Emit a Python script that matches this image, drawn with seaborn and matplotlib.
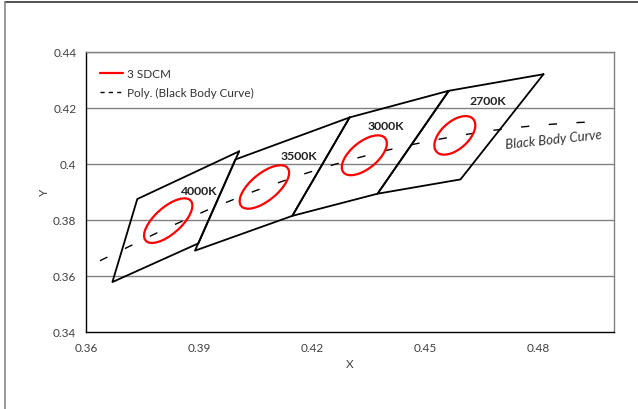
import seaborn as sns
import matplotlib.pyplot as plt
from matplotlib.patches import Ellipse
from matplotlib.lines import Line2D

# ANSI quadrangles (x, y corners)
cct_names = ['2700K', '3000K', '3500K', '4000K']
quad_x = {
    '2700K': [0.4813, 0.4562, 0.4373, 0.4593],
    '3000K': [0.4562, 0.4299, 0.4147, 0.4373],
    '3500K': [0.4299, 0.3996, 0.3889, 0.4147],
    '4000K': [0.4006, 0.3736, 0.3670, 0.3898],
}
quad_y = {
    '2700K': [0.4319, 0.4260, 0.3893, 0.3944],
    '3000K': [0.4260, 0.4165, 0.3814, 0.3893],
    '3500K': [0.4165, 0.4015, 0.3690, 0.3814],
    '4000K': [0.4044, 0.3874, 0.3578, 0.3716],
}

# 3 SDCM ellipses: centre, semi axes, tilt (deg)
ell_cx = [0.4578, 0.4338, 0.4073, 0.3818]
ell_cy = [0.4101, 0.4030, 0.3917, 0.3797]
ell_a = [0.00774, 0.00834, 0.00927, 0.00939]
ell_b = [0.00411, 0.00408, 0.00414, 0.00402]
ell_theta = [57.26, 53.13, 52.17, 54.00]

# label positions for each quadrangle
label_x = [0.4666, 0.4396, 0.4165, 0.3901]
label_y = [0.4226, 0.4136, 0.4028, 0.3906]

# black body curve (polynomial trend line)
bb_x = [0.3637, 0.3815, 0.3929, 0.4048, 0.4167, 0.4258, 0.4324, 0.4395, 0.4464,
        0.4539, 0.4602, 0.4668, 0.4740, 0.4809, 0.4878, 0.4970]
bb_y = [0.3654, 0.3771, 0.3839, 0.3903, 0.3959, 0.3997, 0.4022, 0.4047, 0.4068,
        0.4088, 0.4103, 0.4117, 0.4129, 0.4138, 0.4145, 0.4151]

x_ticks = [0.36, 0.39, 0.42, 0.45, 0.48]
x_labels = ['0.36', '0.39', '0.42', '0.45', '0.48']
y_ticks = [0.34, 0.36, 0.38, 0.40, 0.42, 0.44]
y_labels = ['0.34', '0.36', '0.38', '0.4', '0.42', '0.44']

sns.set_style('white')
plt.rcParams['font.family'] = ['Lato', 'DejaVu Sans']

fig = plt.figure(figsize=(6.38, 4.10), dpi=100)
ax = fig.add_axes([86 / 638, 1 - 333 / 410, 528 / 638, 280.5 / 410])

# horizontal gridlines
for yv in y_ticks[1:]:
    ax.axhline(yv, color='#808080', lw=1.0, zorder=0)

# quadrangles
for name in cct_names:
    xs = quad_x[name] + quad_x[name][:1]
    ys = quad_y[name] + quad_y[name][:1]
    sns.lineplot(x=xs, y=ys, sort=False, color='black', lw=1.3, ax=ax,
                 estimator=None)

# black body curve
sns.lineplot(x=bb_x, y=bb_y, color='black', lw=1.0, ax=ax,
             dashes=False, estimator=None)
ax.lines[-1].set_dashes((6, 14))

# ellipses
for cx, cy, a, b, t in zip(ell_cx, ell_cy, ell_a, ell_b, ell_theta):
    ax.add_patch(Ellipse((cx, cy), 2 * a, 2 * b, angle=t, fill=False,
                         edgecolor='#ff0000', lw=1.6, zorder=5))

for name, lx, ly in zip(cct_names, label_x, label_y):
    ax.text(lx, ly, name, fontsize=8.8, fontweight='bold', color='#222222',
            ha='center', va='center')

ax.text(0.4841, 0.4087, 'Black Body Curve', fontsize=9.5, style='italic',
        color='#333333', ha='center', va='center', rotation=6)

ax.set_xlim(0.36, 0.50)
ax.set_ylim(0.34, 0.44)
ax.set_xticks(x_ticks)
ax.set_xticklabels(x_labels)
ax.set_yticks(y_ticks)
ax.set_yticklabels(y_labels)
ax.tick_params(direction='out', length=4, width=0.8, colors='#404040',
               labelsize=8.5, labelcolor='#404040', pad=3)
ax.set_xlabel('X', fontsize=8.5, color='#404040', labelpad=4)
ax.set_ylabel('Y', fontsize=8.5, color='#404040', labelpad=2)

for side in ['left', 'bottom']:
    ax.spines[side].set_color('black')
    ax.spines[side].set_linewidth(1.0)
for side in ['top', 'right']:
    ax.spines[side].set_color('#808080')
    ax.spines[side].set_linewidth(1.0)

handles = [Line2D([], [], color='#ff0000', lw=1.6),
           Line2D([], [], color='black', lw=1.0, dashes=(3, 3))]
ax.legend(handles, ['3 SDCM', 'Poly. (Black Body Curve)'], loc='upper left',
          bbox_to_anchor=(0.026, 0.94), frameon=False, fontsize=8.5,
          handlelength=2.0, handletextpad=0.3, labelspacing=0.65,
          borderpad=0, borderaxespad=0, labelcolor='#333333')

# outer chart border (only top and left visible in the crop)
fig.add_artist(Line2D([5 / 638, 1], [1 - 3 / 410, 1 - 3 / 410],
                      color='#333333', lw=1.2))
fig.add_artist(Line2D([5 / 638, 5 / 638], [0, 1 - 3 / 410],
                      color='#888888', lw=1.2))

fig.savefig('out.png', dpi=100)
